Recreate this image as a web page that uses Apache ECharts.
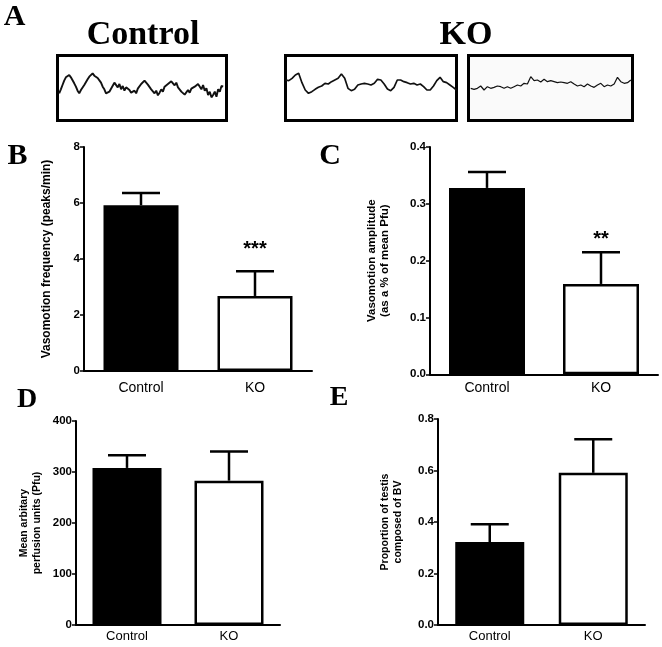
<!DOCTYPE html>
<html>
<head>
<meta charset="utf-8">
<script src="https://cdn.jsdelivr.net/npm/echarts@6/dist/echarts.min.js"></script>
<style>
html,body{margin:0;padding:0;background:#fff;}
#c{width:662px;height:647px;}
</style>
</head>
<body>
<div id="c"></div>
<script>
// ---- Panel A traces (laser Doppler perfusion, arbitrary units, evenly sampled) ----
const traceControl = [50,62,75,88,98,100,105,98,92,80,70,58,50,60,65,75,80,92,100,104,110,103,105,96,95,82,70,62,50,56,55,64,70,82,80,68,78,62,72,58,68,70,60,52,50,58,50,64,62,78,80,88,90,76,80,62,65,50,58,44,52,62,55,70,65,78,75,86,85,74,82,68,70,55,60,46,52,60,52,64,58,70,65,78,72,62,75,58,65,45,55,38,45,55,40,62,55,72,70];
const traceKO1 = [90,88,95,105,110,82,60,50,55,62,68,72,80,78,85,90,95,108,95,65,58,62,75,78,80,78,75,80,92,90,78,63,58,68,90,90,85,82,78,80,75,78,70,60,60,72,88,98,85,82,75,68,60];
const traceKO2 = [65,62,65,72,60,70,65,68,72,70,65,70,65,70,75,72,80,78,100,88,90,84,92,85,88,85,82,84,82,80,85,78,72,75,70,78,72,68,75,80,70,75,72,78,98,85,80,82,90];

// ---- Panels B-E ----
const categories = ['Control', 'KO'];
const freqMean = [5.92, 2.68], freqSem = [0.44, 0.88];
const ampMean = [0.328, 0.159], ampSem = [0.028, 0.056];
const pfuMean = [308, 283], pfuSem = [25, 57];
const bvMean = [0.322, 0.591], bvSem = [0.069, 0.130];
const sigB = ['', '***'], sigC = ['', '**'];
const ticksB = [0, 2, 4, 6, 8];
const ticksC = [0.0, 0.1, 0.2, 0.3, 0.4];
const ticksD = [0, 100, 200, 300, 400];
const ticksE = [0.0, 0.2, 0.4, 0.6, 0.8];

const chart = echarts.init(document.getElementById('c'), null, {renderer: 'canvas'});
const SANS = '"Liberation Sans", Arial, sans-serif';
const SERIF = '"Liberation Serif", "Times New Roman", serif';

const grids = [
  {left: 57.5, top: 55.5, width: 169, height: 65},
  {left: 285.5, top: 55.5, width: 171, height: 65},
  {left: 468.5, top: 55.5, width: 164, height: 65, backgroundColor: '#fafafa'},
  {left: 84, top: 147, width: 228, height: 224},
  {left: 430, top: 147, width: 228, height: 227.3},
  {left: 76, top: 421, width: 204, height: 204},
  {left: 438, top: 419, width: 207, height: 206}
].map((g, i) => Object.assign({show: i < 3, borderColor: '#000', borderWidth: 3, containLabel: false}, g));

const xAxes = [], yAxes = [], series = [];
const traces = [
  {data: traceControl, min: -1, max: 100, lw: 1.9},
  {data: traceKO1, min: 0, max: 52, lw: 1.7},
  {data: traceKO2, min: -0.66, max: 48.5, lw: 1.2}
];
traces.forEach((t, i) => {
  xAxes.push({type: 'value', gridIndex: i, min: t.min, max: t.max, show: false});
  yAxes.push({type: 'value', gridIndex: i, min: -31.5, max: 163.5, show: false});
  series.push({
    type: 'line', xAxisIndex: i, yAxisIndex: i, symbol: 'none', silent: true,
    lineStyle: {color: '#111', width: t.lw},
    data: t.data.map((v, k) => [k, v])
  });
});

const panels = [
  {mean: freqMean, sem: freqSem, sig: sigB, ticks: ticksB, name: 'Vasomotion frequency (peaks/min)', nameGap: 30, nameSize: 12, barW: 75, catSize: 14, catMargin: 10, sigOff: 22, sigSize: 20},
  {mean: ampMean, sem: ampSem, sig: sigC, ticks: ticksC, name: 'Vasomotion amplitude\n(as a % of mean Pfu)', nameGap: 38, nameSize: 11.5, barW: 76, catSize: 14, catMargin: 7, sigOff: 13, sigSize: 20, dec: 1},
  {mean: pfuMean, sem: pfuSem, sig: ['', ''], ticks: ticksD, name: 'Mean arbitary\nperfusion units (Pfu)', nameGap: 33, nameSize: 10.5, barW: 69, catSize: 13, catMargin: 5, sigOff: 0, sigSize: 14},
  {mean: bvMean, sem: bvSem, sig: ['', ''], ticks: ticksE, name: 'Proportion of testis\ncomposed of BV', nameGap: 34, nameSize: 10.5, barW: 69, catSize: 13, catMargin: 5, sigOff: 0, sigSize: 14, dec: 1}
];

panels.forEach((p, j) => {
  const gi = j + 3;
  const step = p.ticks[1] - p.ticks[0];
  xAxes.push({
    type: 'category', gridIndex: gi, data: categories,
    axisLine: {lineStyle: {color: '#000', width: 2}},
    axisTick: {alignWithLabel: true, length: 4, lineStyle: {color: '#000', width: 1.5}},
    axisLabel: {color: '#000', fontFamily: SANS, fontSize: p.catSize, margin: p.catMargin}
  });
  yAxes.push({
    type: 'value', gridIndex: gi, min: p.ticks[0], max: p.ticks[p.ticks.length - 1], interval: step,
    axisLine: {show: true, lineStyle: {color: '#000', width: 2}},
    axisTick: {show: true, length: 4, lineStyle: {color: '#000', width: 1.5}},
    splitLine: {show: false},
    axisLabel: {color: '#000', fontFamily: SANS, fontWeight: 'bold', fontSize: 11.5, margin: 4,
      formatter: v => p.dec ? v.toFixed(1) : String(v)},
    name: p.name, nameLocation: 'middle', nameRotate: 90, nameGap: p.nameGap,
    nameTextStyle: {color: '#000', fontFamily: SANS, fontWeight: 'bold', fontSize: p.nameSize, lineHeight: p.nameSize + 2}
  });
  series.push({
    type: 'bar', xAxisIndex: gi, yAxisIndex: gi, barWidth: p.barW, silent: true,
    data: p.mean.map((v, k) => ({value: v, itemStyle: {color: k === 0 ? '#000' : '#fff', borderColor: '#000', borderWidth: 2.5}}))
  });
  series.push({
    type: 'custom', xAxisIndex: gi, yAxisIndex: gi, silent: true, z: 5,
    data: p.mean.map((v, k) => [k, v, p.sem[k]]),
    renderItem: (params, api) => {
      const k = api.value(0), m = api.value(1), s = api.value(2);
      const p0 = api.coord([k, m]);
      const p1 = api.coord([k, m + s]);
      const hw = 19;
      const st = {stroke: '#000', lineWidth: 2.5};
      const children = [
        {type: 'line', shape: {x1: p0[0], y1: p0[1], x2: p1[0], y2: p1[1]}, style: st},
        {type: 'line', shape: {x1: p1[0] - hw, y1: p1[1], x2: p1[0] + hw, y2: p1[1]}, style: st}
      ];
      const sg = p.sig[params.dataIndex];
      if (sg) {
        children.push({type: 'text', x: p1[0], y: p1[1] - p.sigOff,
          style: {text: sg, fill: '#000', font: 'bold ' + p.sigSize + 'px ' + SANS, textAlign: 'center', textVerticalAlign: 'middle'}});
      }
      return {type: 'group', children};
    }
  });
});

function txt(text, x, y, size) {
  return {type: 'text', x, y, silent: true,
    style: {text, fill: '#000', font: 'bold ' + size + 'px ' + SERIF, textAlign: 'center', textVerticalAlign: 'middle'}};
}

chart.setOption({
  backgroundColor: '#fff',
  animation: false,
  grid: grids,
  xAxis: xAxes,
  yAxis: yAxes,
  series,
  graphic: [
    txt('A', 14.5, 17, 30),
    txt('Control', 143, 35, 34),
    txt('KO', 466, 35, 34),
    txt('B', 17.5, 156, 30),
    txt('C', 330, 156, 30),
    txt('D', 27, 400, 28),
    txt('E', 339, 398, 28)
  ]
});
</script>
</body>
</html>
